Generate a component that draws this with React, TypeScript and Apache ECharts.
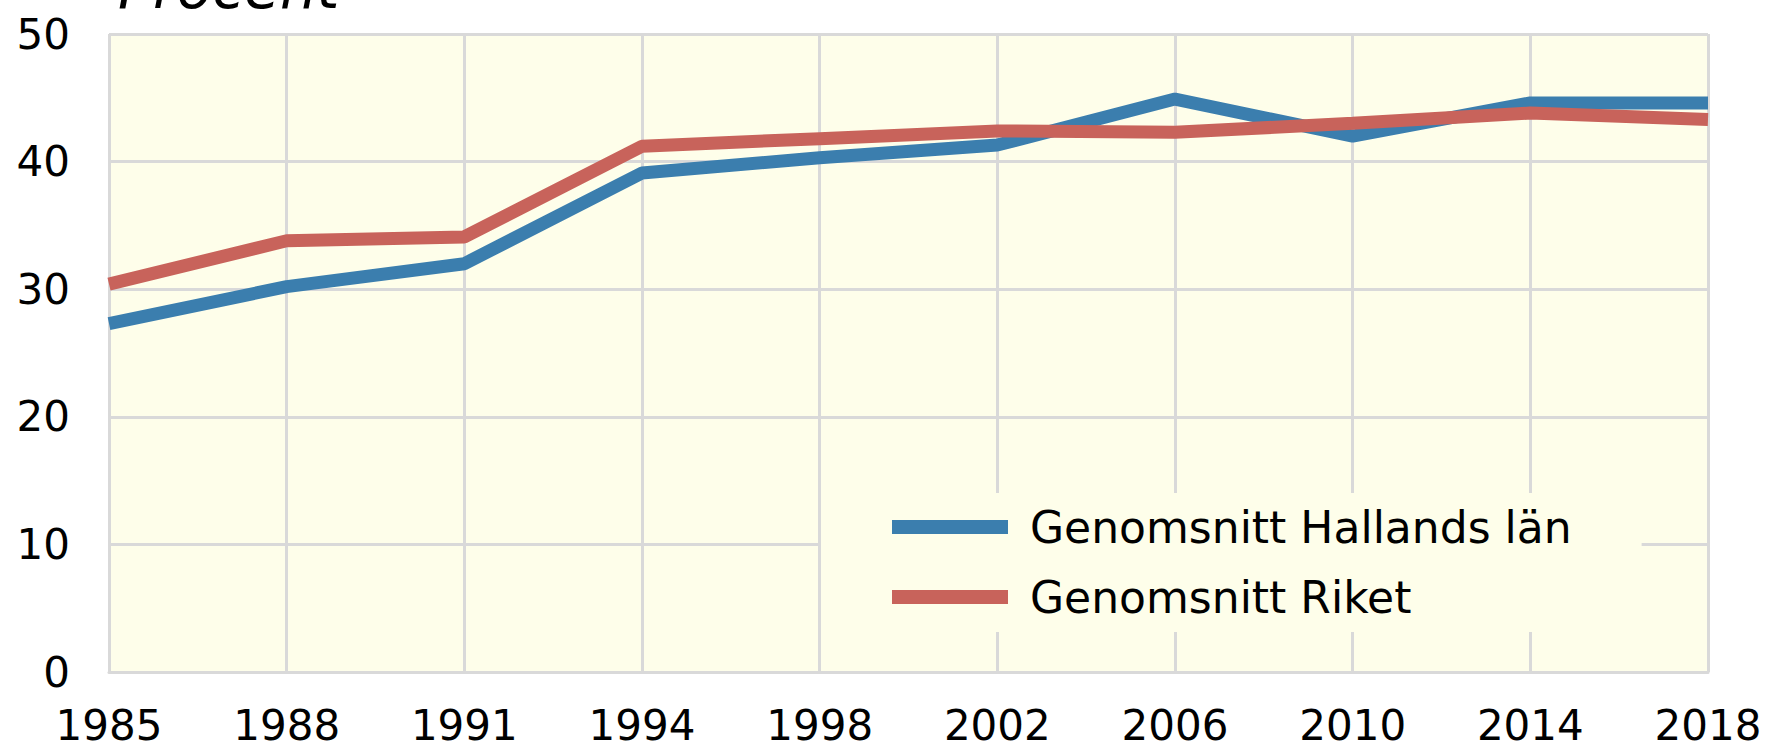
import React, { useEffect, useRef } from "react";
import * as echarts from "echarts";

const years = ["1985", "1988", "1991", "1994", "1998", "2002", "2006", "2010", "2014", "2018"];
const halland = [27.3, 30.2, 32.0, 39.1, 40.3, 41.3, 44.9, 42.0, 44.6, 44.6];
const riket = [30.4, 33.8, 34.1, 41.2, 41.8, 42.4, 42.3, 43.0, 43.8, 43.3];
const seriesNames = ["Genomsnitt Hallands län", "Genomsnitt Riket"];
const titleText = "Procent";

const FONT = "DejaVu Sans";
const GRID = "#d9d9d9";

export default function App() {
  const ref = useRef<HTMLDivElement>(null);
  useEffect(() => {
    if (!ref.current) return;
    const chart = echarts.init(ref.current, null, { renderer: "svg" });
    chart.setOption({
      animation: false,
      backgroundColor: "#ffffff",
      grid: {
        left: 109,
        right: 62,
        top: 34,
        bottom: 78,
        show: true,
        backgroundColor: "#fefeea",
        borderWidth: 0,
      },
      graphic: [
        {
          type: "text",
          left: 118,
          top: -41,
          style: {
            text: titleText,
            fontFamily: FONT,
            fontStyle: "italic",
            fontSize: 58,
            fill: "#000",
          },
        },
      ],
      legend: {
        show: true,
        orient: "vertical",
        left: 821,
        top: 493,
        padding: [12, 70, 13, 71],
        backgroundColor: "#fefeea",
        icon: "rect",
        itemWidth: 116,
        itemHeight: 14,
        itemGap: 26,
        textStyle: {
          fontFamily: FONT,
          fontSize: 44,
          lineHeight: 44,
          color: "#000",
          padding: [0, 0, 0, 17],
        },
        data: seriesNames,
      },
      xAxis: {
        type: "category",
        data: years,
        boundaryGap: false,
        axisLine: { show: true, lineStyle: { color: GRID, width: 3 } },
        axisTick: { show: false },
        axisLabel: {
          fontFamily: FONT,
          fontSize: 42,
          color: "#000",
          margin: 32,
        },
        splitLine: { show: true, lineStyle: { color: GRID, width: 3 } },
      },
      yAxis: {
        type: "value",
        min: 0,
        max: 50,
        interval: 10,
        axisLine: { show: false },
        axisTick: { show: false },
        axisLabel: {
          fontFamily: FONT,
          fontSize: 42,
          color: "#000",
          margin: 39,
        },
        splitLine: { show: true, lineStyle: { color: GRID, width: 3 } },
      },
      series: [
        {
          name: seriesNames[0],
          type: "line",
          data: halland,
          showSymbol: false,
          symbol: "none",
          color: "#3b7eae",
          lineStyle: { width: 13, color: "#3b7eae" },
        },
        {
          name: seriesNames[1],
          type: "line",
          data: riket,
          showSymbol: false,
          symbol: "none",
          color: "#c8635b",
          lineStyle: { width: 13, color: "#c8635b" },
        },
      ],
    });
    return () => chart.dispose();
  }, []);
  return (
    <div
      ref={ref}
      style={{ position: "absolute", left: 0, top: 0, width: 1770, height: 750 }}
    />
  );
}
